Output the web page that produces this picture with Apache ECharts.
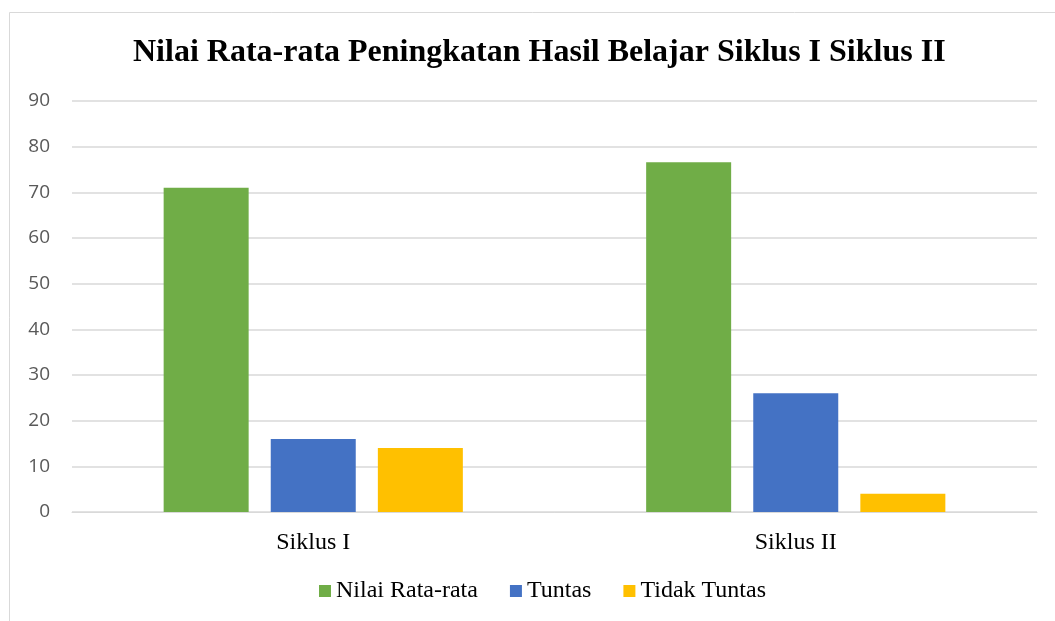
<!DOCTYPE html>
<html>
<head>
<meta charset="utf-8">
<script src="https://cdn.jsdelivr.net/npm/echarts@6/dist/echarts.min.js"></script>
<style>html,body{margin:0;padding:0;background:#fff}#c{width:1055px;height:621px}</style>
</head>
<body>
<div id="c"></div>
<script>
const categories = ['Siklus I', 'Siklus II'];
const nilaiRataRata = [71, 76.6];
const tuntas = [16, 26];
const tidakTuntas = [14, 4];
const seriesNames = ['Nilai Rata-rata', 'Tuntas', 'Tidak Tuntas'];
const titleText = 'Nilai Rata-rata Peningkatan Hasil Belajar Siklus I Siklus II';

const chart = echarts.init(document.getElementById('c'));
const serif = '"Liberation Serif", "Times New Roman", serif';
chart.setOption({
  animation: false,
  backgroundColor: '#fff',
  graphic: [{
    type: 'rect', left: 7, top: 10,
    shape: { width: 1200, height: 800 },
    style: { fill: 'none', stroke: '#d9d9d9', lineWidth: 1 },
    silent: true
  }],
  title: {
    text: titleText, left: 128, top: 32,
    textStyle: { fontFamily: serif, fontWeight: 'bold', fontSize: 32, color: '#000' }
  },
  legend: {
    data: seriesNames, bottom: 13, left: 314,
    icon: 'rect', itemWidth: 12, itemHeight: 12, itemGap: 32,
    textStyle: { fontFamily: serif, fontSize: 24, color: '#000' }
  },
  grid: { left: 72, right: 18, top: 101, bottom: 109 },
  xAxis: {
    type: 'category', data: categories,
    axisLine: { lineStyle: { color: '#d9d9d9' } },
    axisTick: { show: false },
    axisLabel: { fontFamily: serif, fontSize: 24, color: '#000', margin: 19 }
  },
  yAxis: {
    type: 'value', min: 0, max: 90, interval: 10,
    axisLabel: { fontFamily: '"Open Sans", "Liberation Sans", sans-serif', fontSize: 19, color: '#595959', margin: 22 },
    splitLine: { lineStyle: { color: '#d9d9d9', width: 1.5 } },
    axisLine: { show: false }
  },
  series: [
    { name: seriesNames[0], type: 'bar', data: nilaiRataRata, barWidth: 85, barGap: '26%', itemStyle: { color: '#70ad47' } },
    { name: seriesNames[1], type: 'bar', data: tuntas, barWidth: 85, barGap: '26%', itemStyle: { color: '#4472c4' } },
    { name: seriesNames[2], type: 'bar', data: tidakTuntas, barWidth: 85, barGap: '26%', itemStyle: { color: '#ffc000' } }
  ]
});
</script>
</body>
</html>
